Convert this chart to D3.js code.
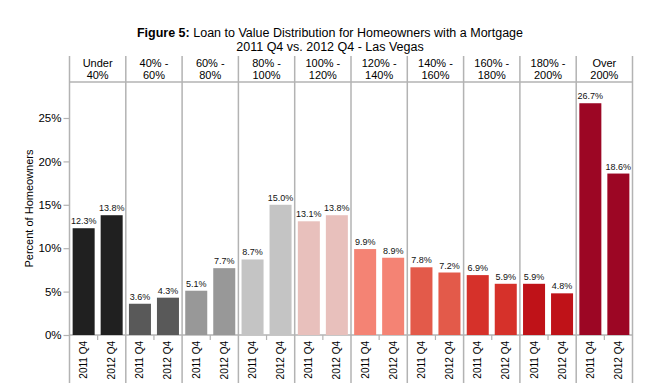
<!DOCTYPE html>
<html>
<head>
<meta charset="utf-8">
<script src="https://cdn.jsdelivr.net/npm/d3@7"></script>
<style>
  body { margin: 0; background: #fff; }
  svg { display: block; font-family: "Liberation Sans", Arial, sans-serif; }
</style>
</head>
<body>
<div id="chart-area"></div>
<script>
// *********************
// Data
// *********************

// LTV buckets (two lines each in the header)
const categories = ["Under 40%", "40% - 60%", "60% - 80%", "80% - 100%", "100% - 120%",
	"120% - 140%", "140% - 160%", "160% - 180%", "180% - 200%", "Over 200%"];
const headerLines = [["Under", "40%"], ["40% -", "60%"], ["60% -", "80%"], ["80% -", "100%"], ["100% -", "120%"],
	["120% -", "140%"], ["140% -", "160%"], ["160% -", "180%"], ["180% -", "200%"], ["Over", "200%"]];

// Periods
const periods = ["2011 Q4", "2012 Q4"];

// Percent of homeowners per bucket
const values2011 = [12.3, 3.6, 5.1, 8.7, 13.1, 9.9, 7.8, 6.9, 5.9, 26.7];
const values2012 = [13.8, 4.3, 7.7, 15.0, 13.8, 8.9, 7.2, 5.9, 4.8, 18.6];

// Y ticks
const yTicks = [0, 5, 10, 15, 20, 25];

// Bucket colours
const colors = ["#202020", "#595959", "#989898", "#c4c4c4", "#e8c0bc",
	"#f48374", "#e35a4a", "#d6312a", "#bf1218", "#9c0624"];

// *********************
// Setup
// *********************

const width = 652;
const height = 389;

const plot = {left: 69.5, right: 632.5, top: 82, bottom: 335, headerTop: 56, footBottom: 383};
const gridColor = "#b3b3b3";

const svg = d3.select("#chart-area")
	.append("svg")
	.attr("width", width)
	.attr("height", height);

// Scales
const x = d3.scaleBand()
	.domain(categories)
	.range([plot.left, plot.right])
	.padding(0);

const xInner = d3.scaleBand()
	.domain(periods)
	.range([0, x.bandwidth()])
	.paddingInner(0.214)
	.paddingOuter(0.112);

const y = d3.scaleLinear()
	.domain([0, 25])
	.range([plot.bottom, plot.bottom - 217]);

const data = categories.map((c, i) => ({
	category: c,
	header: headerLines[i],
	color: colors[i],
	bars: [
		{period: periods[0], value: values2011[i]},
		{period: periods[1], value: values2012[i]}
	]
}));

// *********************
// Title
// *********************

const title = svg.append("text")
	.attr("x", 330)
	.attr("y", 37)
	.attr("text-anchor", "middle")
	.attr("font-size", "12.5px")
	.attr("fill", "#000");
title.append("tspan").attr("font-weight", "bold").text("Figure 5:");
title.append("tspan").text(" Loan to Value Distribution for Homeowners with a Mortgage");

svg.append("text")
	.attr("x", 330)
	.attr("y", 51)
	.attr("text-anchor", "middle")
	.attr("font-size", "12.5px")
	.attr("fill", "#000")
	.text("2011 Q4 vs. 2012 Q4 - Las Vegas");

// *********************
// Grid / frame lines
// *********************

// vertical separators between panels
const seps = categories.map(c => x(c)).concat([plot.right]);
svg.selectAll(".sep")
	.data(seps)
	.enter()
	.append("line")
	.attr("class", "sep")
	.attr("x1", d => d)
	.attr("x2", d => d)
	.attr("y1", plot.headerTop)
	.attr("y2", plot.footBottom)
	.attr("stroke", gridColor)
	.attr("stroke-width", 1.5);

// header bottom and baseline
[plot.top, plot.bottom].forEach(yy => {
	svg.append("line")
		.attr("x1", plot.left)
		.attr("x2", plot.right)
		.attr("y1", yy)
		.attr("y2", yy)
		.attr("stroke", gridColor)
		.attr("stroke-width", 1.5);
});

// *********************
// Header labels
// *********************

const header = svg.selectAll(".header")
	.data(data)
	.enter()
	.append("text")
	.attr("class", "header")
	.attr("text-anchor", "middle")
	.attr("font-size", "11px")
	.attr("fill", "#000");

header.selectAll("tspan")
	.data(d => d.header.map(t => ({t: t, c: d.category})))
	.enter()
	.append("tspan")
	.attr("x", d => x(d.c) + x.bandwidth() / 2)
	.attr("y", (d, i) => 67 + i * 12)
	.text(d => d.t);

// *********************
// Y axis
// *********************

const yAxis = d3.axisLeft(y)
	.tickValues(yTicks)
	.tickSize(6)
	.tickPadding(2)
	.tickFormat(d => d + "%");

const yAxisGroup = svg.append("g")
	.attr("transform", "translate(" + plot.left + ",0)")
	.call(yAxis);

yAxisGroup.select(".domain").remove();
yAxisGroup.selectAll("line").attr("stroke", gridColor).attr("stroke-width", 1.2);
yAxisGroup.selectAll("text")
	.attr("font-size", "11.5px")
	.attr("font-family", "Liberation Sans, Arial, sans-serif")
	.attr("fill", "#000");

svg.append("text")
	.attr("transform", "translate(33," + ((plot.top + plot.bottom) / 2) + ") rotate(-90)")
	.attr("text-anchor", "middle")
	.attr("font-size", "11px")
	.attr("fill", "#000")
	.text("Percent of Homeowners");

// *********************
// Bars
// *********************

const panels = svg.selectAll(".panel")
	.data(data)
	.enter()
	.append("g")
	.attr("class", "panel")
	.attr("transform", d => "translate(" + x(d.category) + ",0)");

panels.selectAll("rect")
	.data(d => d.bars.map(b => Object.assign({color: d.color}, b)))
	.enter()
	.append("rect")
	.attr("x", d => xInner(d.period))
	.attr("y", d => y(d.value))
	.attr("width", xInner.bandwidth())
	.attr("height", d => y(0) - y(d.value))
	.attr("fill", d => d.color);

panels.selectAll(".val")
	.data(d => d.bars)
	.enter()
	.append("text")
	.attr("class", "val")
	.attr("x", d => xInner(d.period) + xInner.bandwidth() / 2)
	.attr("y", d => y(d.value) - 4)
	.attr("text-anchor", "middle")
	.attr("font-size", "9px")
	.attr("fill", "#111")
	.text(d => d.value.toFixed(1) + "%");

// *********************
// X axis (periods)
// *********************

panels.each(function() {
	const g = d3.select(this).append("g")
		.attr("transform", "translate(0," + plot.bottom + ")");

	// small tick between the two bars
	g.append("line")
		.attr("x1", x.bandwidth() / 2)
		.attr("x2", x.bandwidth() / 2)
		.attr("y1", 0)
		.attr("y2", 5)
		.attr("stroke", gridColor)
		.attr("stroke-width", 1.2);

	const xAxis = d3.axisBottom(xInner).tickSize(0).tickPadding(0);
	g.call(xAxis);
	g.select(".domain").remove();
	g.selectAll(".tick text")
		.attr("font-size", "10px")
		.attr("font-family", "Liberation Sans, Arial, sans-serif")
		.attr("fill", "#000")
		.attr("text-anchor", "end")
		.attr("dy", "0.35em")
		.attr("transform", "translate(0,6) rotate(-90)")
		.attr("y", 0)
		.attr("x", 0);
});
</script>
</body>
</html>
